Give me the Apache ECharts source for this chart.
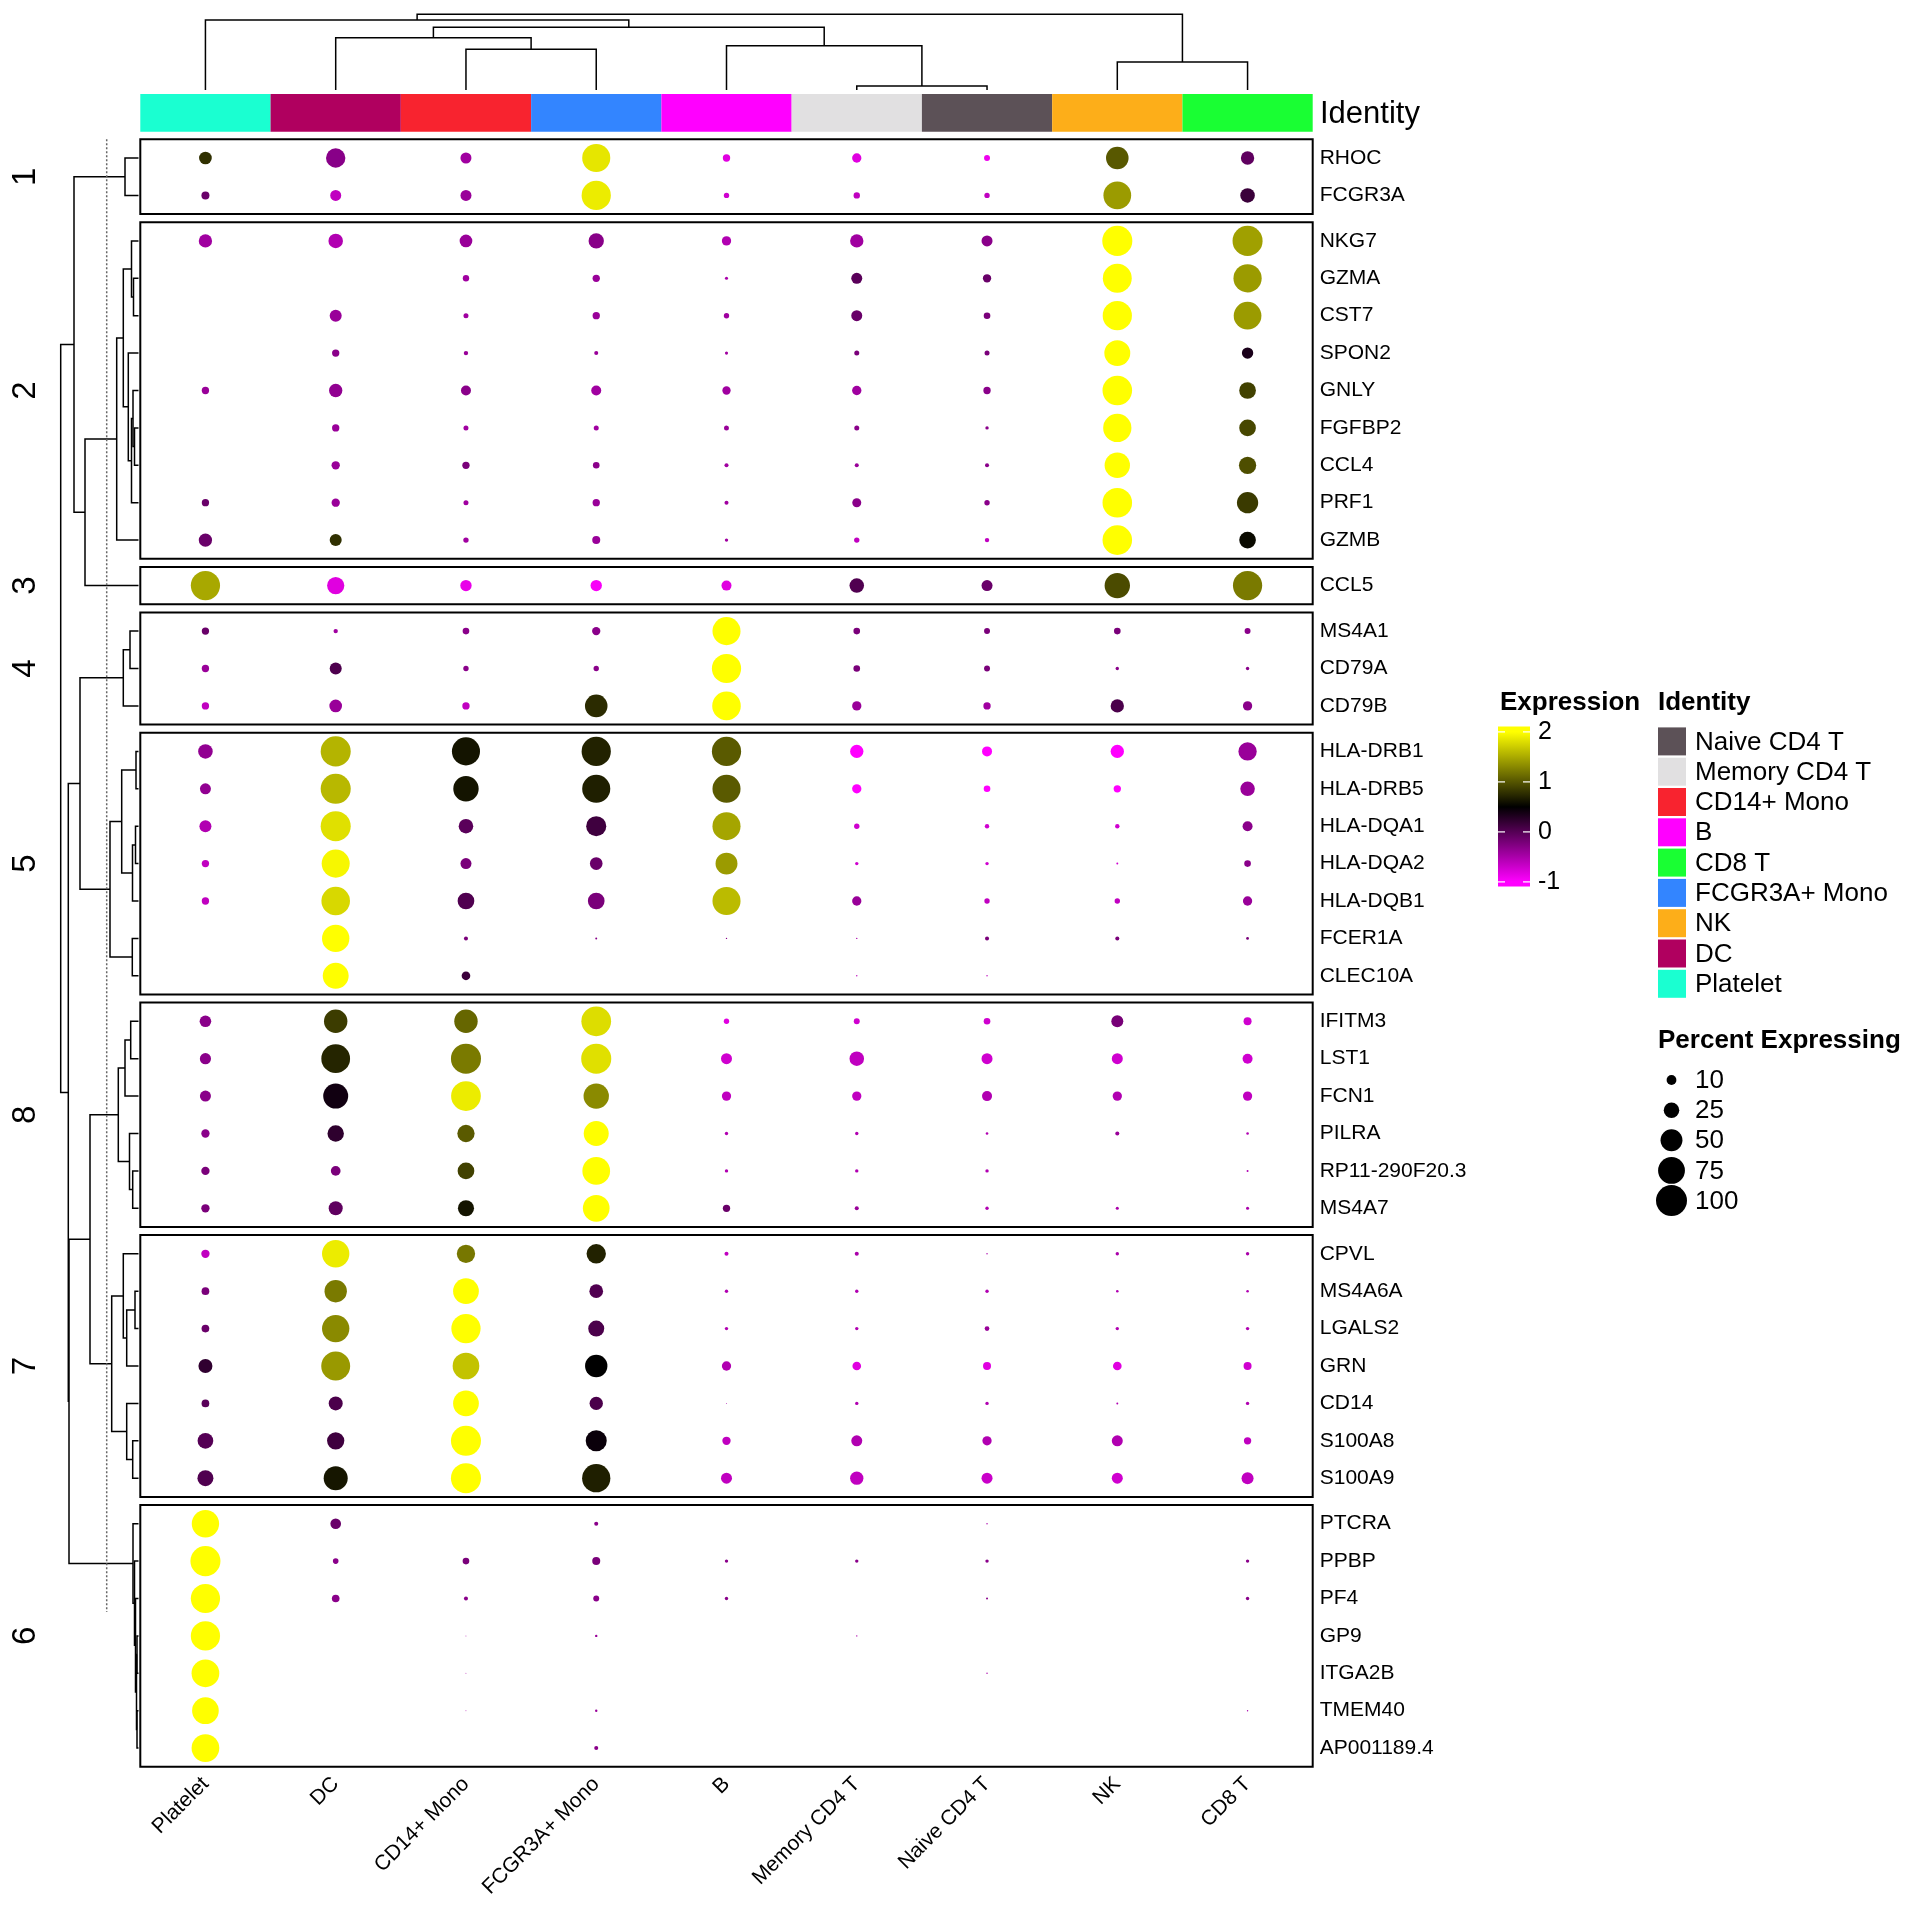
<!DOCTYPE html>
<html><head><meta charset="utf-8">
<script src="https://cdn.jsdelivr.net/npm/echarts@6/dist/echarts.min.js"></script>
<style>html,body{margin:0;padding:0;background:#fff}#c{width:1920px;height:1920px}</style>
</head><body><div id="c"></div>
<script>
// ---------------- DATA ----------------
const columns = ['Platelet','DC','CD14+ Mono','FCGR3A+ Mono','B','Memory CD4 T','Naive CD4 T','NK','CD8 T'];
const identityLegend = ['Naive CD4 T','Memory CD4 T','CD14+ Mono','B','CD8 T','FCGR3A+ Mono','NK','DC','Platelet'];
const identityColors = ['#5C5157','#E1E0E1','#F8232F','#FF00FF','#19FF33','#3385FF','#FDAE19','#B0005F','#1AFFD1'];
const sliceTitles = ['1','2','3','4','5','8','7','6'];

const genes1 = ['RHOC','FCGR3A'];
const pct1 = [
 [16.8, 39, 12.6, 82, 5.6, 9, 3.7, 53, 18.5],
 [6.7, 12.6, 12.6, 89, 3, 4.2, 3, 80, 22]];
const expr1 = [
 [0.78, -0.3, -0.44, 1.85, -0.82, -0.82, -0.9, 1.02, -0.06],
 [-0.12, -0.63, -0.4, 1.89, -0.72, -0.63, -0.63, 1.41, 0.16]];

const genes2 = ['NKG7','GZMA','CST7','SPON2','GNLY','FGFBP2','CCL4','PRF1','GZMB'];
const pct2 = [
 [18.5, 22, 16.7, 24.5, 9, 18.5, 12.6, 94, 94],
 [0, 0, 4.2, 5.6, 1, 12.6, 7.2, 87, 83],
 [0, 15, 2.6, 5.6, 3, 12.6, 4.6, 89, 80],
 [0, 5.6, 2, 1.7, 1, 2.6, 2.6, 70, 13.4],
 [5.6, 18.5, 10.4, 10.4, 7.2, 9, 5.6, 91, 29],
 [0, 5.6, 2.6, 2.6, 2.6, 2.6, 1.2, 83, 29],
 [0, 7.2, 5.6, 4.6, 1.7, 1.7, 1.7, 67, 31],
 [5.6, 7.2, 2.6, 5.6, 1.7, 8.4, 3, 91, 47],
 [18.5, 15, 3, 6.7, 1.2, 3, 2, 91, 29]];
const expr2 = [
 [-0.44, -0.54, -0.4, -0.3, -0.54, -0.44, -0.31, 2, 1.44],
 [-0.5, -0.5, -0.44, -0.4, -0.5, -0.03, -0.12, 2, 1.41],
 [-0.5, -0.4, -0.44, -0.4, -0.44, -0.12, -0.22, 2, 1.41],
 [-0.5, -0.31, -0.4, -0.4, -0.44, -0.22, -0.22, 2, 0.35],
 [-0.4, -0.35, -0.31, -0.44, -0.44, -0.44, -0.31, 2, 0.88],
 [-0.5, -0.4, -0.44, -0.44, -0.4, -0.31, -0.31, 2, 0.92],
 [-0.5, -0.4, -0.22, -0.31, -0.44, -0.4, -0.31, 2, 0.96],
 [-0.12, -0.4, -0.44, -0.4, -0.44, -0.31, -0.31, 2, 0.84],
 [-0.12, 0.78, -0.44, -0.4, -0.44, -0.63, -0.63, 2, 0.56]];

const genes3 = ['CCL5'];
const pct3 = [[89, 31, 13.4, 13.4, 10.4, 22, 12.6, 67, 89]];
const expr3 = [[1.49, -0.82, -0.87, -0.96, -0.82, 0.03, -0.12, 0.94, 1.22]];

const genes4 = ['MS4A1','CD79A','CD79B'];
const pct4 = [
 [5.6, 2, 4.6, 7.2, 82, 4.6, 3.7, 4.6, 3.7],
 [5.6, 15, 3, 3, 89, 4.6, 3.7, 1.2, 1.2],
 [5.6, 16.7, 5.6, 53, 85, 9, 5.6, 18.5, 9]];
const expr4 = [
 [-0.12, -0.44, -0.31, -0.31, 2, -0.22, -0.22, -0.22, -0.31],
 [-0.4, 0.04, -0.31, -0.31, 2, -0.22, -0.22, -0.31, -0.31],
 [-0.63, -0.4, -0.63, 0.75, 2, -0.4, -0.44, 0.06, -0.31]];

const genes5 = ['HLA-DRB1','HLA-DRB5','HLA-DQA1','HLA-DQA2','HLA-DQB1','FCER1A','CLEC10A'];
const pct5 = [
 [22, 94, 82, 89, 89, 18.5, 10.4, 18.5, 35],
 [12.6, 94, 67, 82, 82, 9, 4.6, 5.6, 22],
 [15, 94, 22, 42, 82, 3, 2, 2, 10.4],
 [5.6, 82, 12.6, 16.7, 50, 1.2, 1.2, 0.4, 4.6],
 [5.6, 85, 29, 29, 82, 9, 3, 3, 9],
 [0, 78, 1.7, 0.4, 0.2, 0.2, 1.7, 1.7, 0.8],
 [0, 70, 7.8, 0, 0, 0.2, 0.2, 0, 0]];
const expr5 = [
 [-0.35, 1.56, 0.62, 0.7, 1.03, -1, -1, -1, -0.4],
 [-0.35, 1.58, 0.62, 0.68, 1.03, -1, -1, -1, -0.4],
 [-0.54, 1.82, -0.03, 0.13, 1.47, -0.72, -0.72, -0.72, -0.31],
 [-0.63, 1.95, -0.22, -0.12, 1.41, -0.72, -0.72, -0.72, -0.31],
 [-0.63, 1.77, 0.03, -0.22, 1.6, -0.4, -0.63, -0.63, -0.4],
 [-0.5, 2, -0.22, -0.3, -0.3, -0.5, -0.22, -0.22, -0.22],
 [-0.5, 2, 0.15, -0.5, -0.5, -0.6, -0.6, -0.5, -0.5]];

const genes8 = ['IFITM3','LST1','FCN1','PILRA','RP11-290F20.3','MS4A7'];
const pct8 = [
 [14, 57, 57, 92, 3, 3.7, 4.6, 15, 6.7],
 [13, 86, 94, 94, 12.6, 22, 12.6, 12.6, 10.4],
 [12.7, 65, 92, 67, 9, 9, 10.4, 9, 9],
 [7.2, 28, 31, 65, 1.2, 1.2, 0.7, 1.7, 0.7],
 [7.2, 9.8, 29, 80, 1.2, 1.2, 1.2, 0, 0.4],
 [7.2, 20.4, 27, 74, 5.6, 1.7, 1.2, 1, 1]];
const expr8 = [
 [-0.31, 0.85, 1.1, 1.8, -0.82, -0.72, -0.72, -0.2, -0.72],
 [-0.31, 0.72, 1.22, 1.82, -0.72, -0.63, -0.72, -0.72, -0.72],
 [-0.31, 0.4, 1.89, 1.31, -0.63, -0.63, -0.54, -0.54, -0.63],
 [-0.31, 0.23, 1.03, 2, -0.54, -0.54, -0.54, -0.4, -0.54],
 [-0.22, -0.22, 0.88, 2, -0.54, -0.54, -0.54, -0.5, -0.54],
 [-0.22, -0.06, 0.62, 2, -0.12, -0.4, -0.54, -0.5, -0.5]];

const genes7 = ['CPVL','MS4A6A','LGALS2','GRN','CD14','S100A8','S100A9'];
const pct7 = [
 [7.2, 78, 35, 39, 1.7, 1.7, 0.2, 1.2, 1.2],
 [6.2, 52, 69, 19.5, 1.2, 1.2, 1.2, 0.7, 0.7],
 [6.2, 78, 89, 26.6, 1.2, 1.2, 2.3, 1.2, 1.2],
 [20.4, 87, 74, 52, 9, 7.8, 6.7, 7.8, 6.7],
 [6.2, 20.4, 69, 18.5, 0.1, 1.2, 1.2, 0.4, 1.2],
 [25.6, 31, 94, 46, 7.2, 12.6, 9, 12.6, 5.6],
 [26.6, 60, 94, 83, 12.6, 18.5, 12.6, 12.6, 15]];
const expr7 = [
 [-0.63, 1.89, 1.2, 0.7, -0.63, -0.5, -0.5, -0.5, -0.5],
 [-0.22, 1.22, 2, 0.03, -0.54, -0.54, -0.54, -0.54, -0.54],
 [-0.12, 1.31, 2, 0.06, -0.54, -0.54, -0.4, -0.54, -0.54],
 [0.22, 1.4, 1.65, 0.5, -0.54, -0.82, -0.82, -0.82, -0.72],
 [-0.03, 0.06, 2, 0.06, -0.5, -0.54, -0.54, -0.54, -0.54],
 [0, 0.13, 2, 0.44, -0.63, -0.54, -0.54, -0.54, -0.63],
 [0.03, 0.63, 2, 0.68, -0.63, -0.63, -0.68, -0.72, -0.63]];

const genes6 = ['PTCRA','PPBP','PF4','GP9','ITGA2B','TMEM40','AP001189.4'];
const pct6 = [
 [78, 11.8, 0, 1.7, 0, 0, 0.2, 0, 0],
 [94, 3.3, 4.6, 6.7, 1.2, 1.2, 1.2, 0, 1.2],
 [89, 6.1, 1.7, 3.7, 1.2, 0, 0.4, 0, 1.2],
 [89, 0, 0.1, 0.6, 0, 0.2, 0, 0, 0],
 [80, 0, 0.1, 0, 0, 0, 0.2, 0, 0],
 [74, 0, 0.1, 0.6, 0, 0, 0, 0, 0.2],
 [80, 0, 0, 1.7, 0, 0, 0, 0, 0]];
const expr6 = [
 [2, -0.12, -0.5, -0.31, -0.5, -0.5, -0.5, -0.5, -0.5],
 [2, -0.31, -0.22, -0.22, -0.31, -0.31, -0.31, -0.5, -0.31],
 [2, -0.31, -0.31, -0.31, -0.31, -0.5, -0.31, -0.5, -0.31],
 [2, -0.5, -0.5, -0.4, -0.5, -0.5, -0.5, -0.5, -0.5],
 [2, -0.5, -0.5, -0.5, -0.5, -0.5, -0.5, -0.5, -0.5],
 [2, -0.5, -0.5, -0.4, -0.5, -0.5, -0.5, -0.5, -0.5],
 [2, -0.5, -0.5, -0.31, -0.5, -0.5, -0.5, -0.5, -0.5]];

// Column dendrogram: [height, left, right]
const colTree = [75.7, [70, 'Platelet', [62.7, [52.3, 'DC', [40.7, 'CD14+ Mono', 'FCGR3A+ Mono']], [44.3, 'B', [4, 'Memory CD4 T', 'Naive CD4 T']]]], [28, 'NK', 'CD8 T']];

// Row dendrogram
const rowC1 = [13.5, 'RHOC', 'FCGR3A'];
const rowC2 = [21.8, [15.2, [7, 'NKG7', [5, 'GZMA', 'CST7']], [10.2, 'SPON2', [7, [5.5, 'GNLY', [4, 'FGFBP2', 'CCL4']], 'PRF1']]], 'GZMB'];
const rowC4 = [15.2, [8.5, 'MS4A1', 'CD79A'], 'CD79B'];
const rowC5 = [28.5, [16.8, [2.5, 'HLA-DRB1', 'HLA-DRB5'], [6, [3, 'HLA-DQA1', 'HLA-DQA2'], 'HLA-DQB1']], [6.2, 'FCER1A', 'CLEC10A']];
const rowC8 = [20.2, [13.5, [7.8, 'IFITM3', 'LST1'], 'FCN1'], [9, 'PILRA', [5.8, 'RP11-290F20.3', 'MS4A7']]];
const rowC7 = [26.8, [15.2, 'CPVL', [11.8, [3.5, 'MS4A6A', 'LGALS2'], 'GRN']], [11.8, 'CD14', [5.8, 'S100A8', 'S100A9']]];
const rowC6 = [5.5, 'PTCRA', [4, 'PPBP', [3, 'PF4', [2, [1.5, 'GP9', 'ITGA2B'], [1.5, 'TMEM40', 'AP001189.4']]]]];
const rowTree = [77.8, [64.5, rowC1, [53.5, rowC2, 'CCL5']], [70.2, [58.5, rowC4, rowC5], [69.5, [48.5, rowC8, rowC7], rowC6]]];
const rowCutHeight = 31.8;

const legendPercents = [10, 25, 50, 75, 100];
const colorTicks = [2, 1, 0, -1];

// ---------------- LAYOUT ----------------
const slices = [
 [genes1, pct1, expr1], [genes2, pct2, expr2], [genes3, pct3, expr3], [genes4, pct4, expr4],
 [genes5, pct5, expr5], [genes8, pct8, expr8], [genes7, pct7, expr7], [genes6, pct6, expr6]];
const FONT = 'Liberation Sans, Arial, Helvetica, sans-serif';
const L = 140.3, R = 1920 - 1312.7, TOP0 = 139.3, ROWH = 37.4, GAP = 8.1;
const MAXD = 31;
const sizeOf = p => MAXD * Math.sqrt(p / 100);

const grids = [], xAxes = [], yAxes = [], series = [];
let yCursor = TOP0;
slices.forEach((s, k) => {
  const h = s[0].length * ROWH;
  grids.push({left: L, right: R, top: yCursor, height: h, show: true, borderColor: '#000', borderWidth: 2, backgroundColor: 'transparent'});
  yCursor += h + GAP;
  const last = k === slices.length - 1;
  xAxes.push({type: 'category', gridIndex: k, data: columns, axisTick: {show: false}, axisLine: {show: false},
    axisLabel: {show: last, rotate: 45, interval: 0, fontSize: 21, fontFamily: FONT, color: '#000', margin: 14}});
  yAxes.push({type: 'category', gridIndex: k, data: s[0], inverse: true, position: 'right', axisTick: {show: false}, axisLine: {show: false},
    axisLabel: {fontSize: 21, fontFamily: FONT, color: '#000', margin: 7}});
  const data = [];
  s[0].forEach((g, i) => columns.forEach((c, j) => {
    if (s[1][i][j] > 0) data.push([j, g, s[2][i][j], s[1][i][j]]);
  }));
  series.push({type: 'scatter', xAxisIndex: k, yAxisIndex: k, data: data, symbol: 'circle',
    symbolSize: v => sizeOf(v[3]), itemStyle: {opacity: 1}, silent: true, animation: false});
});
const plotBottom = yCursor - GAP;
// identity bar grid (8)
grids.push({left: L, right: R, top: 94, height: 37.7});
xAxes.push({type: 'category', gridIndex: 8, data: columns, show: false});
yAxes.push({type: 'value', gridIndex: 8, min: 0, max: 1, show: false});
series.push({type: 'bar', xAxisIndex: 8, yAxisIndex: 8, barWidth: '100%', barCategoryGap: '0%', silent: true, animation: false,
  data: columns.map(c => ({value: 1, itemStyle: {color: identityColors[identityLegend.indexOf(c)]}}))});
// column dendrogram grid (9)
grids.push({left: L, right: R, top: 90 - colTree[0], height: colTree[0]});
xAxes.push({type: 'category', gridIndex: 9, data: columns, show: false});
yAxes.push({type: 'value', gridIndex: 9, min: 0, max: colTree[0], show: false});
// row dendrogram grid (10)
grids.push({left: 138.5 - rowTree[0], width: rowTree[0], top: TOP0, height: plotBottom - TOP0});
xAxes.push({type: 'value', gridIndex: 10, min: 0, max: rowTree[0], inverse: true, show: false});
yAxes.push({type: 'value', gridIndex: 10, min: 0, max: 1, show: false});

const chart = echarts.init(document.getElementById('c'), null, {renderer: 'canvas'});
chart.setOption({
  animation: false,
  backgroundColor: '#fff',
  grid: grids, xAxis: xAxes, yAxis: yAxes, series: series,
  visualMap: {type: 'continuous', show: false, min: -1, max: 2, dimension: 2, seriesIndex: [0,1,2,3,4,5,6,7],
    inRange: {color: ['#FF00FF', '#000000', '#FFFF00']}}
});

// ---------------- DENDROGRAMS & LEGENDS (graphic) ----------------
const gfx = [];
function build(node, leafPx, hPx, vertical) {
  if (typeof node === 'string') return {p: leafPx(node), h: hPx(0)};
  const a = build(node[1], leafPx, hPx, vertical), b = build(node[2], leafPx, hPx, vertical);
  const hn = hPx(node[0]);
  const pts = vertical ? [[a.p, a.h], [a.p, hn], [b.p, hn], [b.p, b.h]]
                       : [[a.h, a.p], [hn, a.p], [hn, b.p], [b.h, b.p]];
  gfx.push({type: 'polyline', shape: {points: pts}, style: {stroke: '#000', lineWidth: 1.5, fill: null}, silent: true});
  return {p: (a.p + b.p) / 2, h: hn};
}
build(colTree, c => chart.convertToPixel({xAxisIndex: 9}, c), h => chart.convertToPixel({yAxisIndex: 9}, h), true);
const geneSlice = {};
slices.forEach((s, k) => s[0].forEach(g => geneSlice[g] = k));
build(rowTree, g => chart.convertToPixel({yAxisIndex: geneSlice[g]}, g), h => chart.convertToPixel({xAxisIndex: 10}, h), false);
const cutX = chart.convertToPixel({xAxisIndex: 10}, rowCutHeight);
gfx.push({type: 'line', shape: {x1: cutX, y1: TOP0, x2: cutX, y2: 1612}, style: {stroke: '#666', lineWidth: 1.5, lineDash: [2, 2]}, silent: true});

// slice titles
let tCursor = TOP0;
slices.forEach((s, k) => {
  const h = s[0].length * ROWH;
  gfx.push({type: 'text', x: 26, y: tCursor + h / 2, rotation: Math.PI / 2,
    style: {text: sliceTitles[k], font: '33px ' + FONT, fill: '#000', textAlign: 'center', textVerticalAlign: 'middle'}});
  tCursor += h + GAP;
});
// annotation name
gfx.push({type: 'text', x: 1320, y: 114, style: {text: 'Identity', font: '31px ' + FONT, fill: '#000', textVerticalAlign: 'middle'}});

// Expression color bar
const cbX = 1498, cbW = 32, cbTopV = 2.11, cbBotV = -1.09, cbY0 = 726.4, pxPerUnit = 50;
const cbH = (cbTopV - cbBotV) * pxPerUnit;
const off = v => (cbTopV - v) / (cbTopV - cbBotV);
gfx.push({type: 'text', x: 1500, y: 703, style: {text: 'Expression', font: 'bold 26px ' + FONT, fill: '#000', textVerticalAlign: 'middle'}});
gfx.push({type: 'rect', shape: {x: cbX, y: cbY0, width: cbW, height: cbH}, silent: true,
  style: {fill: new echarts.graphic.LinearGradient(0, 0, 0, 1, [
    {offset: 0, color: '#FFFF00'}, {offset: off(2), color: '#FFFF00'}, {offset: off(0.5), color: '#000000'},
    {offset: off(-1), color: '#FF00FF'}, {offset: 1, color: '#FF00FF'}])}});
colorTicks.forEach(v => {
  const y = cbY0 + (cbTopV - v) * pxPerUnit;
  gfx.push({type: 'line', shape: {x1: cbX, y1: y, x2: cbX + 7, y2: y}, style: {stroke: '#fff', lineWidth: 1.2}, silent: true});
  gfx.push({type: 'line', shape: {x1: cbX + cbW - 7, y1: y, x2: cbX + cbW, y2: y}, style: {stroke: '#fff', lineWidth: 1.2}, silent: true});
  gfx.push({type: 'text', x: cbX + cbW + 8, y: y, style: {text: String(v), font: '25px ' + FONT, fill: '#000', textVerticalAlign: 'middle'}});
});

// Identity legend
gfx.push({type: 'text', x: 1658, y: 703, style: {text: 'Identity', font: 'bold 26px ' + FONT, fill: '#000', textVerticalAlign: 'middle'}});
identityLegend.forEach((name, i) => {
  const cy = 741.4 + i * 30.3;
  gfx.push({type: 'rect', shape: {x: 1658, y: cy - 14, width: 28, height: 28}, style: {fill: identityColors[i]}, silent: true});
  gfx.push({type: 'text', x: 1695, y: cy + 1, style: {text: name, font: '26px ' + FONT, fill: '#000', textVerticalAlign: 'middle'}});
});

// Percent legend
gfx.push({type: 'text', x: 1658, y: 1041, style: {text: 'Percent Expressing', font: 'bold 26px ' + FONT, fill: '#000', textVerticalAlign: 'middle'}});
legendPercents.forEach((p, i) => {
  const cy = 1080 + i * 30.15;
  gfx.push({type: 'circle', shape: {cx: 1671.5, cy: cy, r: sizeOf(p) / 2}, style: {fill: '#000'}, silent: true});
  gfx.push({type: 'text', x: 1695, y: cy + 1, style: {text: String(p), font: '26px ' + FONT, fill: '#000', textVerticalAlign: 'middle'}});
});

chart.setOption({graphic: gfx});
</script></body></html>
